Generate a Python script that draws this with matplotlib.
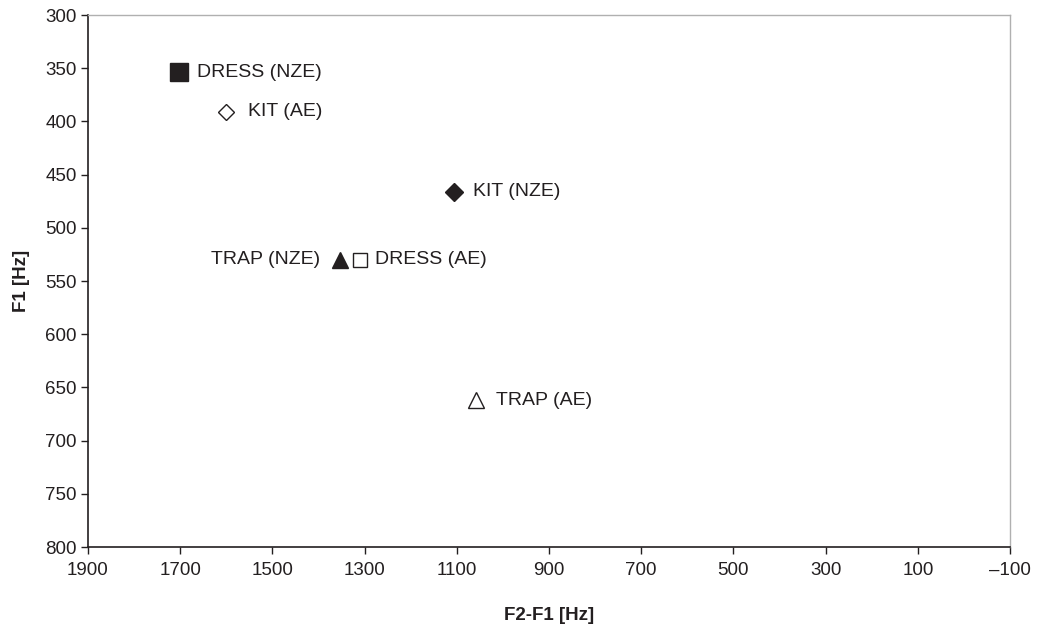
import matplotlib.pyplot as plt

# vowel formant data
vowels = ["DRESS (NZE)", "KIT (AE)", "KIT (NZE)", "TRAP (NZE)", "DRESS (AE)", "TRAP (AE)"]
f2_f1 = [1702, 1600, 1107, 1354, 1309, 1059]
f1 = [354, 391, 466, 530, 530, 662]
markers = ["s", "D", "D", "^", "s", "^"]
filled = [True, False, True, True, False, False]
sizes = [13.5, 8, 9, 11, 10, 11]
offsets = [18, 22, 19, -20, 15, 20]

plt.rcParams['font.family'] = ['Liberation Sans', 'DejaVu Sans']

fig = plt.figure(figsize=(10.4, 6.25), dpi=100)
ax = fig.add_axes([0.0846, 0.1248, 0.8866, 0.8512])

for name, x, y, m, f, s, off in zip(vowels, f2_f1, f1, markers, filled, sizes, offsets):
    ax.plot(x, y, marker=m, linestyle='none', markersize=s,
            markerfacecolor='#231f20' if f else 'white',
            markeredgecolor='#231f20', markeredgewidth=1.0)
    ax.annotate(name, (x, y), xytext=(off, 0), textcoords='offset pixels',
                ha='left' if off > 0 else 'right', va='center',
                fontsize=14, color='#231f20')

ax.set_xlim(1900, -100)
ax.set_ylim(800, 300)
ax.set_xticks(range(1900, -101, -200))
ax.set_xticklabels([str(v) if v >= 0 else '\u2013' + str(-v) for v in range(1900, -101, -200)])
ax.set_yticks(range(300, 801, 50))

ax.tick_params(axis='both', labelsize=13.5, colors='#231f20', length=5, width=1, direction='out')
ax.tick_params(axis='x', pad=6)
ax.tick_params(axis='y', pad=3)

for side in ['top', 'right']:
    ax.spines[side].set_color('#b0b0b0')
    ax.spines[side].set_linewidth(1.0)
for side in ['left', 'bottom']:
    ax.spines[side].set_color('#231f20')
    ax.spines[side].set_linewidth(1.2)

ax.set_xlabel('F2-F1 [Hz]', fontsize=13.5, fontweight='bold', labelpad=20, color='#231f20')
ax.set_ylabel('F1 [Hz]', fontsize=13.5, fontweight='bold', labelpad=11, color='#231f20')

fig.savefig('out.png', dpi=100)
